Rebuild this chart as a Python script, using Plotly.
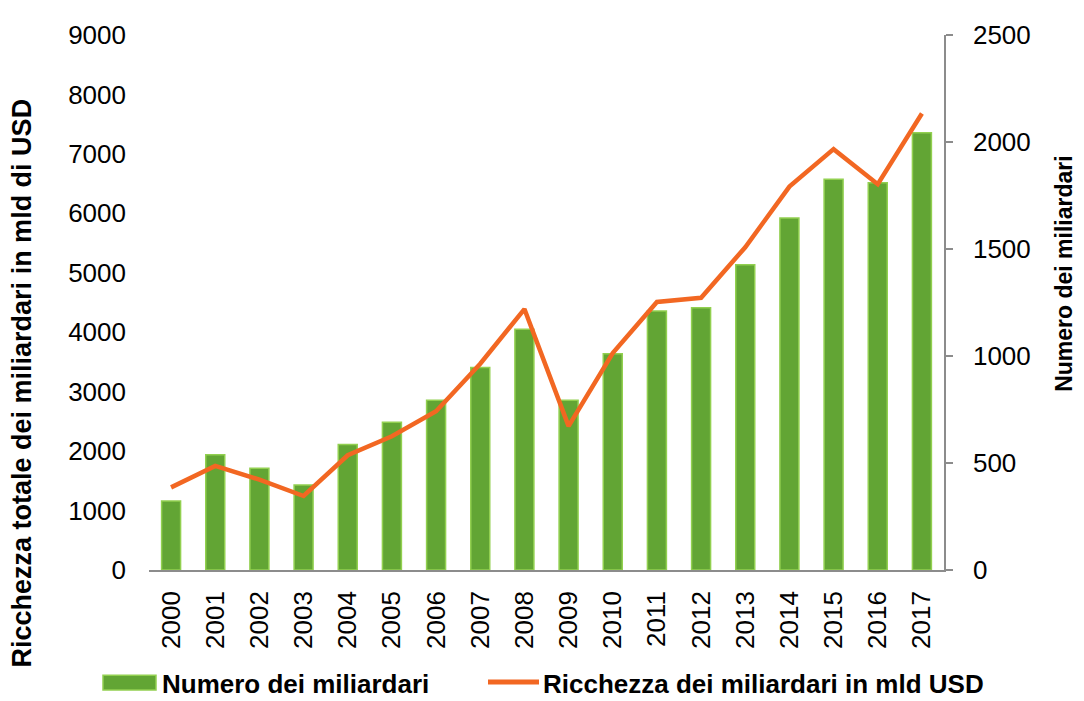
import plotly.graph_objects as go

years = [str(y) for y in range(2000, 2018)]
numero_miliardari = [322, 538, 476, 397, 587, 691, 793, 946, 1125, 793, 1011, 1210, 1226, 1426, 1645, 1826, 1810, 2043]
ricchezza_mld_usd = [1390, 1750, 1520, 1245, 1930, 2250, 2670, 3470, 4390, 2420, 3650, 4510, 4580, 5430, 6450, 7080, 6490, 7680]

left_ticks = [0, 1000, 2000, 3000, 4000, 5000, 6000, 7000, 8000, 9000]
right_ticks = [0, 500, 1000, 1500, 2000, 2500]

name_bar = "Numero dei miliardari"
name_line = "Ricchezza dei miliardari in mld USD"
title_left = "Ricchezza totale dei miliardari in mld di USD"
title_right = "Numero dei miliardari"

GREEN = "#62A534"
GREEN_EDGE = "#92D050"
ORANGE = "#F26722"
AXIS = "#8C8C8C"
FONT = "Liberation Sans, Arial, sans-serif"

fig = go.Figure()
fig.add_trace(go.Bar(x=years, y=numero_miliardari, name=name_bar, yaxis="y",
                     marker=dict(color=GREEN, line=dict(color=GREEN_EDGE, width=1.5)),
                     showlegend=False))
fig.add_trace(go.Scatter(x=years, y=ricchezza_mld_usd, name=name_line, yaxis="y2",
                         mode="lines", line=dict(color=ORANGE, width=4.5),
                         showlegend=False))

# page has an 8px body margin; work in page pixels and convert
OFF = 8
W, H = 1084 - 2 * OFF, 701 - OFF
PL, PR, PT, PB = 149, 944, 24, 570.5  # plot area in page pixels
L = PL - OFF
T = PT - OFF
R = W - (PR - OFF)
B = H - (PB - OFF)
pw = W - L - R
ph = H - T - B


def px_x(x):
    return (x - OFF - L) / pw


def px_y(y):
    return (H - B - (y - OFF)) / ph


fig.update_layout(
    width=W, height=H,
    margin=dict(l=L, r=R, t=T, b=B),
    paper_bgcolor="white", plot_bgcolor="white",
    font=dict(family=FONT, size=26, color="black"),
    bargap=0.57,
    showlegend=False,
    xaxis=dict(type="category", showline=True, linecolor=AXIS, linewidth=1.5,
               ticks="", tickangle=-90, ticklabelstandoff=9, showgrid=False,
               tickfont=dict(size=26)),
    yaxis=dict(side="right", range=[0, 2500], tickvals=right_ticks, showgrid=False,
               zeroline=False, showline=True, linecolor=AXIS, linewidth=1.5,
               ticks="outside", ticklen=7, tickcolor=AXIS, tickwidth=1.5,
               ticklabelstandoff=15, tickfont=dict(size=26)),
    yaxis2=dict(side="left", overlaying="y", range=[0, 9000], tickvals=left_ticks,
                showgrid=False, zeroline=False, showline=False, ticks="",
                ticklabelstandoff=22, tickfont=dict(size=26)),
)

annotations = [
    dict(text=f"<b>{title_left}</b>", xref="paper", yref="paper", x=px_x(22), y=px_y(380),
         xanchor="center", yanchor="middle", textangle=-90, showarrow=False,
         font=dict(size=27, family=FONT)),
    dict(text=f"<b>{title_right}</b>", xref="paper", yref="paper", x=px_x(1064), y=px_y(268),
         xanchor="center", yanchor="middle", textangle=-90, showarrow=False,
         font=dict(size=23, family=FONT)),
    dict(text=f"<b>{name_bar}</b>", xref="paper", yref="paper", x=px_x(160), y=px_y(687),
         xanchor="left", yanchor="middle", showarrow=False, font=dict(size=26, family=FONT)),
    dict(text=f"<b>{name_line}</b>", xref="paper", yref="paper", x=px_x(541), y=px_y(687),
         xanchor="left", yanchor="middle", showarrow=False, font=dict(size=26, family=FONT)),
]
shapes = [
    dict(type="rect", xref="paper", yref="paper", x0=px_x(103), x1=px_x(156),
         y0=px_y(693), y1=px_y(678), fillcolor=GREEN, line=dict(color=GREEN_EDGE, width=1.5)),
    dict(type="line", xref="paper", yref="paper", x0=px_x(488), x1=px_x(539),
         y0=px_y(685), y1=px_y(685), line=dict(color=ORANGE, width=5)),
]
fig.update_layout(annotations=annotations, shapes=shapes)

fig.write_html("out.html")
